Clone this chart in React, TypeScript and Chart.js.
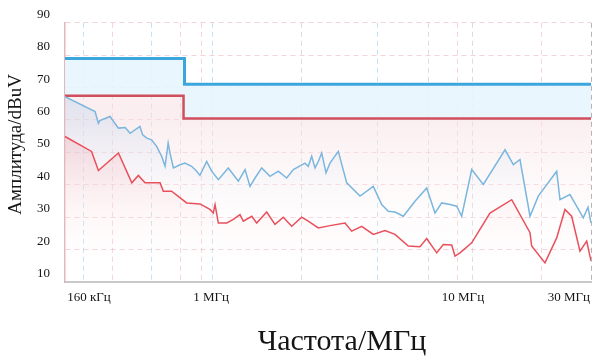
import React, { useEffect, useRef } from "react";
import { Chart, registerables } from "chart.js";

Chart.register(...registerables);

const FONT = "'Liberation Serif', 'Times New Roman', serif";

// Limit lines (MHz, dBuV)
const BLUE_LIMIT_FREQ = [0.15, 0.5, 0.5, 30];
const BLUE_LIMIT = [79, 79, 71, 71];
const RED_LIMIT_FREQ = [0.15, 0.495, 0.495, 30];
const RED_LIMIT = [67.5, 67.5, 60.5, 60.5];

// Blue trace
const BLUE_FREQ = [
  0.150, 0.203, 0.210, 0.213, 0.236, 0.257, 0.275, 0.289, 0.319, 0.328,
  0.342, 0.359, 0.378, 0.397, 0.411, 0.424, 0.432, 0.447, 0.478, 0.502,
  0.537, 0.565, 0.584, 0.625, 0.657, 0.703, 0.777, 0.860, 0.920, 0.967,
  1.017, 1.088, 1.183, 1.286, 1.399, 1.496, 1.682, 1.739, 1.800, 1.861,
  1.924, 1.991, 2.079, 2.164, 2.353, 2.562, 2.928, 3.348, 3.643, 3.894,
  4.166, 4.530, 5.096, 5.733, 6.233, 6.668, 7.250, 7.755, 8.154, 9.020,
  10.14, 12.62, 13.72, 14.67, 16.23, 17.64, 21.23, 21.95, 24.27, 27.76,
  29.10, 30.0,
];
const BLUE_VAL = [
  67.2, 62.6, 59.0, 59.8, 61.1, 57.5, 57.7, 55.9, 58.0, 55.4,
  54.4, 53.9, 51.8, 48.8, 45.7, 52.9, 49.8, 45.2, 46.2, 46.7,
  45.7, 44.2, 42.9, 47.2, 44.2, 41.6, 45.2, 41.1, 44.7, 39.5,
  42.1, 45.2, 42.6, 44.2, 42.1, 44.7, 46.7, 45.7, 48.8, 45.2,
  47.2, 49.8, 43.7, 46.7, 50.3, 40.6, 36.5, 39.5, 33.9, 31.8,
  31.6, 30.3, 34.9, 39.0, 31.3, 34.4, 33.9, 33.4, 30.3, 44.7,
  40.1, 50.8, 46.2, 47.8, 30.3, 36.5, 44.2, 35.4, 37.0, 29.8,
  33.1, 28.2,
];

// Red trace
const RED_FREQ = [
  0.150, 0.196, 0.210, 0.257, 0.294, 0.314, 0.336, 0.391, 0.404, 0.439,
  0.511, 0.584, 0.646, 0.668, 0.680, 0.703, 0.765, 0.817, 0.874, 0.904,
  0.984, 1.034, 1.144, 1.244, 1.352, 1.472, 1.627, 1.739, 1.924, 2.164,
  2.518, 2.693, 2.979, 3.348, 3.766, 4.166, 4.763, 5.358, 5.733, 6.341,
  6.777, 7.375, 7.623, 8.017, 9.020, 10.84, 13.50, 16.23, 16.50, 18.87,
  21.23, 23.08, 24.69, 26.85, 28.73, 30.0,
];
const RED_VAL = [
  54.9, 50.3, 44.4, 49.8, 40.6, 42.9, 40.6, 40.6, 38.0, 38.0,
  34.4, 34.1, 32.4, 31.3, 33.9, 28.2, 28.2, 29.3, 30.8, 28.8,
  30.3, 28.2, 31.6, 27.8, 30.0, 27.2, 30.0, 28.8, 26.7, 27.4,
  28.2, 25.7, 27.2, 24.7, 25.9, 24.7, 21.1, 20.9, 23.4, 19.0,
  21.6, 21.4, 18.0, 19.0, 22.1, 31.3, 35.4, 25.2, 21.1, 15.9,
  23.6, 32.4, 30.3, 19.5, 22.6, 16.5,
];

// Axis ticks
const X_LABEL_FREQ = [0.191, 0.653, 8.26, 24.0];
const X_LABELS = ["160 кГц", "1 МГц", "10 МГц", "30 МГц"];
const X_GRID_FREQ = [0.18, 0.243, 0.36, 0.478, 0.596, 0.666, 1.632, 3.51, 5.81, 7.78, 9.05, 18.3, 30];
const X_GRID_COLORS = [
  "rgba(160,205,235,0.6)", "rgba(238,170,178,0.5)", "rgba(160,205,235,0.6)", "rgba(238,170,178,0.5)",
  "rgba(238,170,178,0.5)", "rgba(160,205,235,0.6)", "rgba(185,185,185,0.5)", "rgba(160,205,235,0.6)",
  "rgba(185,185,185,0.5)", "rgba(238,170,178,0.5)", "rgba(185,185,185,0.5)", "rgba(238,170,178,0.5)",
  "rgba(150,150,150,0.7)",
];
const Y_TICKS = [10, 20, 30, 40, 50, 60, 70, 80, 90];
const X_TITLE = "Частота/МГц";
const Y_TITLE = "Амплитуда/dBuV";

const zip = (xs: number[], ys: number[]) => xs.map((x, i) => ({ x, y: ys[i] }));

const ALL_X_TICKS = [...X_GRID_FREQ, ...X_LABEL_FREQ].sort((a, b) => a - b);
const near = (a: number, b: number) => Math.abs(a - b) < 1e-6;
const labelFor = (v: number) => {
  const i = X_LABEL_FREQ.findIndex((f) => near(f, v));
  return i >= 0 ? X_LABELS[i] : "";
};
const gridColorFor = (v: number) => {
  const i = X_GRID_FREQ.findIndex((f) => near(f, v));
  return i >= 0 ? X_GRID_COLORS[i] : "rgba(0,0,0,0)";
};

const vGradient = (ctx: any, top: number, bottom: number, c0: string, c1: string) => {
  const chart = ctx.chart;
  const area = chart.chartArea;
  const y = chart.scales.y;
  if (!area || !y) return c0;
  const g = chart.ctx.createLinearGradient(0, y.getPixelForValue(top), 0, y.getPixelForValue(bottom));
  g.addColorStop(0, c0);
  g.addColorStop(1, c1);
  return g;
};

const titlePlugin = {
  id: "axisTitles",
  afterDraw(chart: any) {
    const c = chart.ctx;
    const a = chart.chartArea;
    c.save();
    c.fillStyle = "#151515";
    c.textAlign = "center";
    c.textBaseline = "alphabetic";
    c.font = `30px ${FONT}`;
    c.fillText(X_TITLE, (a.left + a.right) / 2 + 14, 350);
    c.translate(21, (a.top + a.bottom) / 2 - 8);
    c.rotate(-Math.PI / 2);
    c.font = `19px ${FONT}`;
    c.fillText(Y_TITLE, 0, 0);
    c.restore();
  },
};

export default function App() {
  const ref = useRef<HTMLCanvasElement | null>(null);

  useEffect(() => {
    if (!ref.current) return;
    const chart = new Chart(ref.current, {
      type: "line",
      data: {
        datasets: [
          {
            label: "red trace",
            data: zip(RED_FREQ, RED_VAL),
            borderColor: "#E8505C",
            borderWidth: 1.5,
            pointRadius: 0,
            tension: 0,
            fill: "start",
            backgroundColor: (ctx: any) =>
              vGradient(ctx, 55, 15, "rgba(242,160,170,0.3)", "rgba(255,235,237,0.0)"),
          },
          {
            label: "blue trace",
            data: zip(BLUE_FREQ, BLUE_VAL),
            borderColor: "#7AB6DD",
            borderWidth: 1.5,
            pointRadius: 0,
            tension: 0,
            fill: "start",
            backgroundColor: (ctx: any) =>
              vGradient(ctx, 66, 32, "rgba(170,205,235,0.32)", "rgba(225,238,250,0.0)"),
          },
          {
            label: "AV limit",
            data: zip(RED_LIMIT_FREQ, RED_LIMIT),
            borderColor: "#CF4F5D",
            borderWidth: 2.5,
            pointRadius: 0,
            tension: 0,
            fill: "start",
            backgroundColor: (ctx: any) =>
              vGradient(ctx, 60, 15, "rgba(246,224,228,0.55)", "rgba(255,250,250,0.0)"),
          },
          {
            label: "QP limit",
            data: zip(BLUE_LIMIT_FREQ, BLUE_LIMIT),
            borderColor: "#3BA6DC",
            borderWidth: 3,
            pointRadius: 0,
            tension: 0,
            fill: 2,
            backgroundColor: "rgba(232,245,253,0.9)",
          },
        ],
      },
      options: {
        animation: false,
        responsive: true,
        maintainAspectRatio: false,
        layout: { padding: { top: 21.5, right: 9, left: 0, bottom: 0 } },
        plugins: {
          legend: { display: false },
          tooltip: { enabled: false },
          filler: { drawTime: "beforeDatasetsDraw" },
        },
        scales: {
          x: {
            type: "logarithmic",
            min: 0.15,
            max: 30,
            afterBuildTicks: (s: any) => {
              s.ticks = ALL_X_TICKS.map((v) => ({ value: v }));
            },
            afterFit: (s: any) => {
              s.height = 81;
            },
            ticks: {
              autoSkip: false,
              maxRotation: 0,
              minRotation: 0,
              padding: 8,
              color: "#151515",
              font: { family: FONT, size: 13 },
              callback: (v: any) => labelFor(Number(v)),
            },
            grid: {
              drawTicks: false,
              lineWidth: 1,
              color: (ctx: any) => gridColorFor(ctx.tick ? ctx.tick.value : -1),
            },
            border: { display: true, color: "#C9C9C9", width: 2, dash: [5, 4] },
          },
          y: {
            min: 10,
            max: 90,
            afterBuildTicks: (s: any) => {
              s.ticks = Y_TICKS.map((v) => ({ value: v }));
            },
            afterFit: (s: any) => {
              s.width = 65;
            },
            ticks: {
              padding: 15,
              labelOffset: -8.5,
              color: "#151515",
              font: { family: FONT, size: 13 },
            },
            grid: {
              drawTicks: false,
              lineWidth: 1,
              color: (ctx: any) =>
                ctx.tick && ctx.tick.value === 10 ? "rgba(0,0,0,0)" : "rgba(235,170,180,0.5)",
            },
            border: { display: true, color: "rgba(225,175,182,0.9)", width: 1.5, dash: [5, 4] },
          },
        },
      },
      plugins: [titlePlugin],
    } as any);
    return () => chart.destroy();
  }, []);

  return (
    <div style={{ position: "absolute", left: 0, top: 0, width: 600, height: 363, background: "#fff" }}>
      <canvas ref={ref} />
    </div>
  );
}
